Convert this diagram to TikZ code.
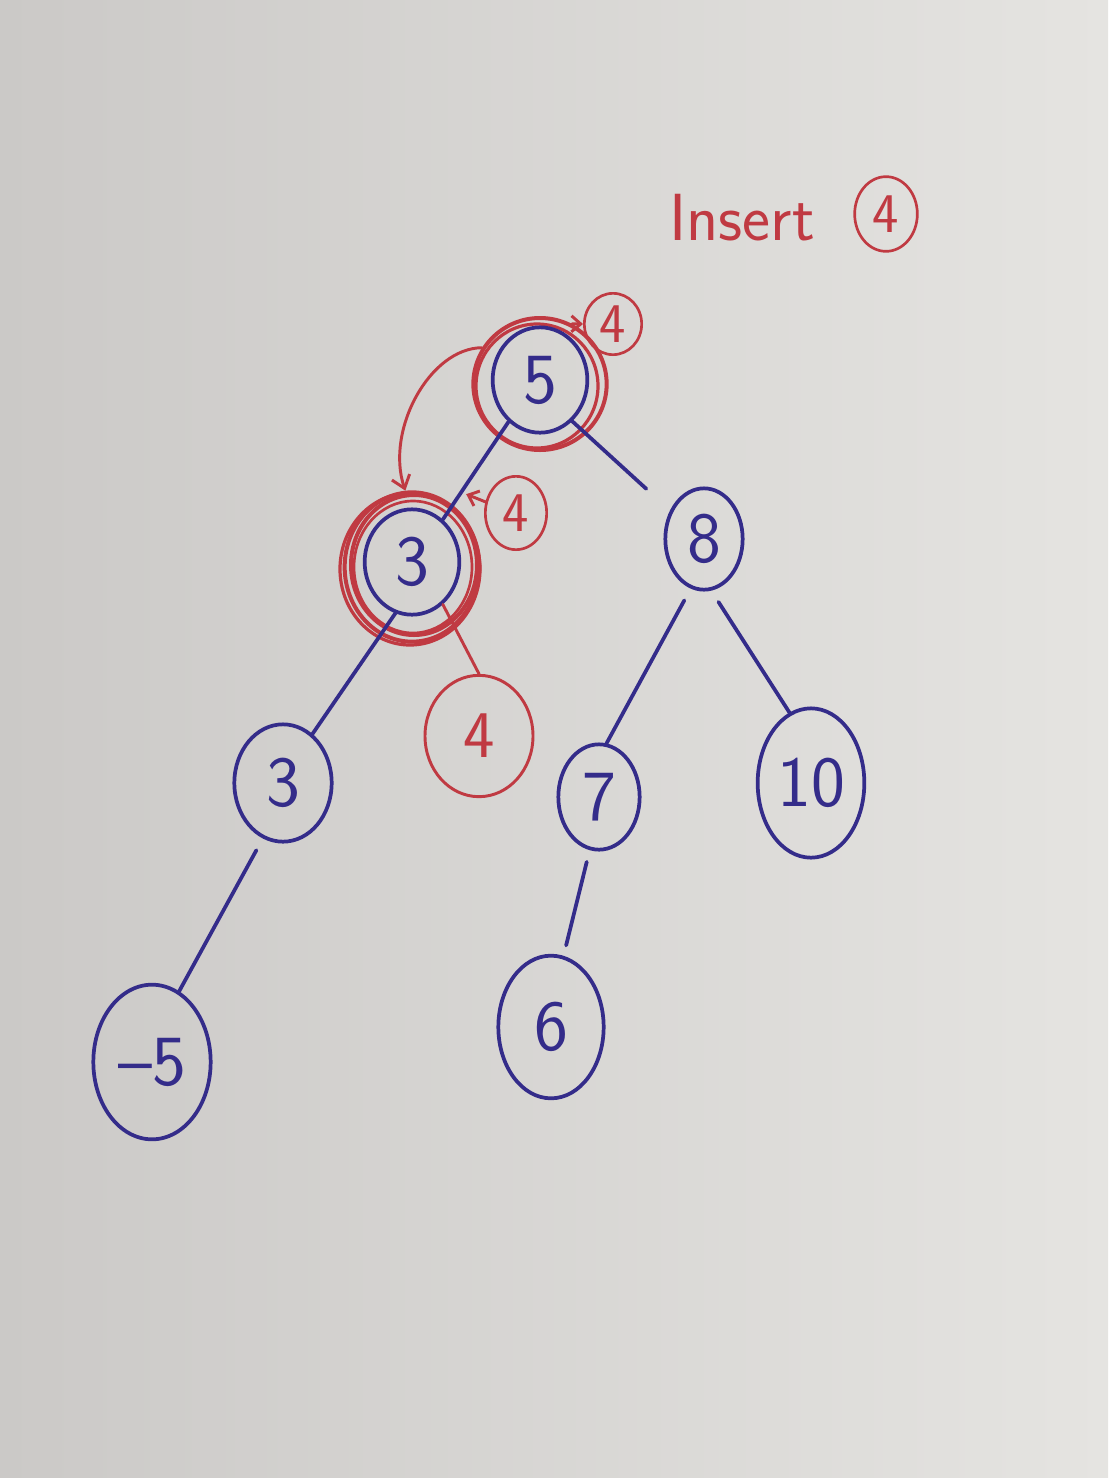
\documentclass[tikz,border=0pt]{standalone}
\usepackage{tikz}
\usepackage{color}
\usetikzlibrary{shapes.geometric}
\usetikzlibrary{arrows.meta}

\definecolor{inkblue}{RGB}{52,44,138}
\definecolor{inkred}{RGB}{192,58,66}
\definecolor{paperlight}{RGB}{229,228,225}
\definecolor{paperdark}{RGB}{203,201,199}

\begin{document}
\begin{tikzpicture}[x=0.75pt,y=0.75pt,yscale=-1,xscale=1,
  bnode/.style={ellipse,draw=inkblue,line width=2.8pt,text=inkblue,inner sep=0pt,font=\sffamily\fontsize{54}{58}\selectfont},
  rnode/.style={ellipse,draw=inkred,line width=2.2pt,text=inkred,inner sep=0pt,font=\sffamily\fontsize{50}{56}\selectfont},
  tag/.style={ellipse,draw=inkred,line width=2pt,text=inkred,inner sep=0pt,font=\sffamily\fontsize{42}{46}\selectfont},
  ring/.style={ellipse,draw=inkred,line width=3pt,inner sep=0pt},
  bedge/.style={draw=inkblue,line width=2.8pt,line cap=round},
  redge/.style={draw=inkred,line width=2.2pt,line cap=round},
  pointer/.style={redge,-{Straight Barb[length=7pt,width=12pt]}}]
%set diagram left start at 0, and has height of 1478
\shade[left color=paperdark,right color=paperlight] (0,0) rectangle (1108,1478);

%Red rings [id:root]
\node[ring,minimum width=100pt,minimum height=99pt] (r5) at (540,384) {};
\draw[inkred,line width=2.4pt] (537,386) ellipse [x radius=61, y radius=62];
%Red rings [id:left]
\node[ring,minimum width=101pt,minimum height=112pt] (r3) at (412,567) {};
\draw[inkred,line width=3pt] (414,565) ellipse [x radius=63, y radius=70];
\draw[inkred,line width=2.4pt] (410,569) ellipse [x radius=70, y radius=76];
\draw[inkred,line width=2pt] (413,567) ellipse [x radius=59, y radius=66];

% Tree Nodes
\node[bnode,minimum width=71pt,minimum height=79pt] (n5) at (540,380) {5};
\node[bnode,minimum width=58pt,minimum height=76pt] (n8) at (704,539) {8};
\node[bnode,minimum width=71pt,minimum height=79pt] (n3a) at (412,562) {3};
\node[bnode,minimum width=73pt,minimum height=88pt] (n3b) at (283,783) {3};
\node[rnode,minimum width=81pt,minimum height=91pt] (n4) at (479,736) {4};
\node[bnode,minimum width=61pt,minimum height=79pt] (n7) at (599,797) {7};
\node[bnode,minimum width=80pt,minimum height=112pt] (n10) at (811,783) {10};
\node[bnode,minimum width=88pt,minimum height=116pt] (nm5) at (152,1062) {--5};
\node[bnode,minimum width=79pt,minimum height=107pt] (n6) at (551,1027) {6};

%Straight Lines
\draw[bedge] (n5.233) -- (n3a.54);
\draw[bedge,shorten >=24pt] (n5.-52) -- (n8.140);
\draw[bedge] (n3a.252) -- (n3b.59);
\draw[redge] (n3a.306) -- (n4.90);
\draw[bedge,shorten <=10pt] (n8.255) -- (n7.82);
\draw[bedge,shorten <=10pt] (n8.278) -- (n10.107);
\draw[bedge,shorten <=10pt] (n3b.250) -- (nm5.69);
\draw[bedge,shorten <=9pt,shorten >=8pt] (n7.260) -- (n6.80);

% Text Node
\node[text=inkred,inner sep=0pt,font=\sffamily\fontsize{50}{54}\selectfont] (ins) at (742,218) {Insert};
\node[tag,minimum width=47pt,minimum height=56pt] (t0) at (886,214) {4};
\node[tag,minimum width=43pt,minimum height=46pt] (t5) at (613,324) {4};
\node[tag,minimum width=46pt,minimum height=55pt] (t3) at (516,513) {4};

%Curve Lines
\draw[redge,-{Straight Barb[length=9pt,width=14pt]}] (r5.148) .. controls (430,348) and (385,430) .. (r3.95);

%Pointers
\path (n5.233) -- (n3a.54) coordinate[pos=0.72] (e53);
\draw[pointer] (r5.62) -- (t5.west);
\draw[pointer,shorten >=4pt] (t3.160) -- (e53);

\end{tikzpicture}
\end{document}
